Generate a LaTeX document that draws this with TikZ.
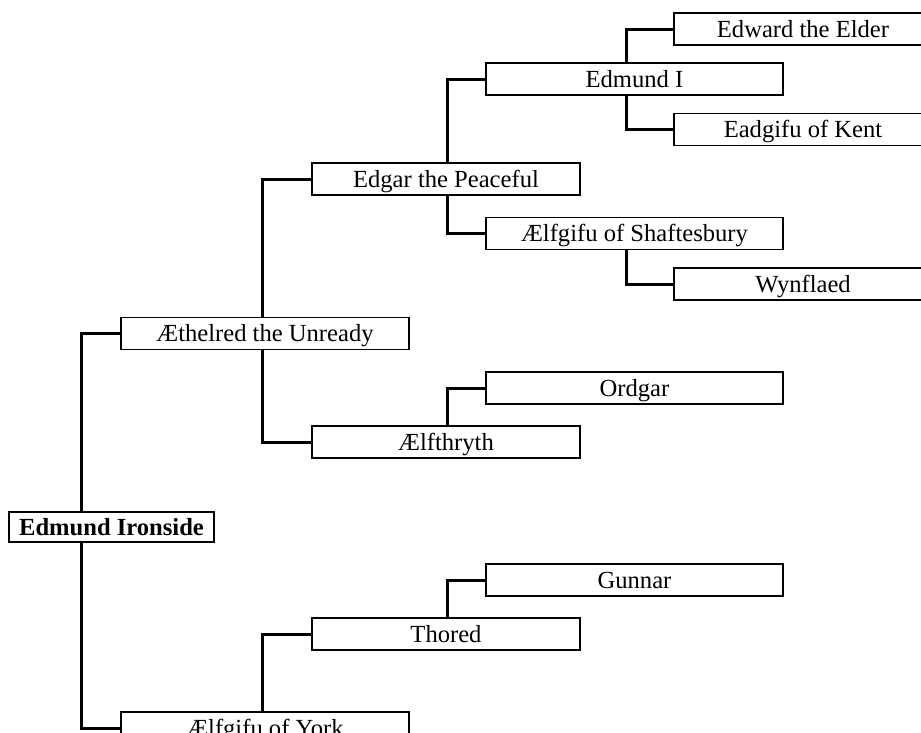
\documentclass[tikz,border=0pt]{standalone}
\usepackage{fontspec}
\setmainfont{Liberation Serif}
\usetikzlibrary{backgrounds}
\begin{document}
\begin{tikzpicture}[x=1pt,y=-1pt,
 person/.style={draw, line width=1.2pt, fill=white, inner sep=0pt, minimum height=32pt, text height=18pt, text depth=2pt, font=\fontsize{24.6}{28}\selectfont},
 w1/.style={person, minimum width=288pt},
 w2/.style={person, minimum width=268pt},
 w3/.style={person, minimum width=297pt},
 w4/.style={person, minimum width=258pt},
 root/.style={person, minimum width=205pt, minimum height=30pt, font=\bfseries\fontsize{24.6}{28}\selectfont},
 link/.style={line width=3pt}]
\useasboundingbox (0,0) rectangle (921,732);
\clip (0,0) rectangle (921,732);
\node[root] (iron) at (111.5,527) {Edmund Ironside};
\node[w1] (aeth) at (265,333.5) {Æthelred the Unready};
\node[w1] (york) at (265,728) {Ælfgifu of York};
\node[w2] (edgar) at (446,179) {Edgar the Peaceful};
\node[w2] (aelfthryth) at (446,442) {Ælfthryth};
\node[w2] (thored) at (446,634) {Thored};
\node[w3] (edmund) at (634.5,79) {Edmund I};
\node[w3] (shaft) at (634.5,233.5) {Ælfgifu of Shaftesbury};
\node[w3] (ordgar) at (634.5,388) {Ordgar};
\node[w3] (gunnar) at (634.5,580) {Gunnar};
\node[w4] (edward) at (803,29) {Edward the Elder};
\node[w4] (eadgifu) at (803,129.5) {Eadgifu of Kent};
\node[w4] (wyn) at (803,284) {Wynflaed};
\begin{scope}[on background layer]
\draw[link] ([xshift=-30.5pt]iron.north) |- (aeth.west);
\draw[link] ([xshift=-30.5pt]iron.south) |- (york.west);
\draw[link] ([xshift=-3pt]aeth.north) |- (edgar.west);
\draw[link] ([xshift=-3pt]aeth.south) |- (aelfthryth.west);
\draw[link] ([xshift=-3pt]york.north) |- (thored.west);
\draw[link] ([xshift=1pt]edgar.north) |- (edmund.west);
\draw[link] ([xshift=1pt]edgar.south) |- (shaft.west);
\draw[link] ([xshift=1pt]aelfthryth.north) |- (ordgar.west);
\draw[link] ([xshift=1pt]thored.north) |- (gunnar.west);
\draw[link] ([xshift=-8.5pt]edmund.north) |- (edward.west);
\draw[link] ([xshift=-8.5pt]edmund.south) |- (eadgifu.west);
\draw[link] ([xshift=-8.5pt]shaft.south) |- (wyn.west);
\end{scope}
\end{tikzpicture}
\end{document}
